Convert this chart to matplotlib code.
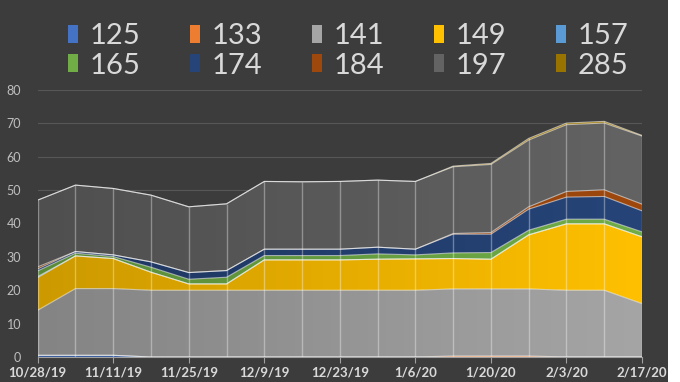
import numpy as np
import matplotlib
matplotlib.use('Agg')
import matplotlib.pyplot as plt
from matplotlib.colors import LinearSegmentedColormap, to_rgb
from matplotlib.patches import Rectangle

# weekly dates
dates = ['10/28/19', '11/4/19', '11/11/19', '11/18/19', '11/25/19', '12/2/19',
         '12/9/19', '12/16/19', '12/23/19', '12/30/19', '1/6/20', '1/13/20',
         '1/20/20', '1/27/20', '2/3/20', '2/10/20', '2/17/20']

names = ['125', '133', '141', '149', '157', '165', '174', '184', '197', '285']
colors = ['#4472C4', '#ED7D31', '#A5A5A5', '#FFC000', '#5B9BD5',
          '#70AD47', '#264478', '#9E480E', '#636363', '#997300']

# values per series (stacked bottom to top)
s125 = [0.5, 0.5, 0.5, 0, 0, 0, 0, 0, 0, 0, 0, 0, 0, 0, 0, 0, 0]
s133 = [0, 0, 0, 0, 0, 0, 0, 0, 0, 0, 0, 0.3, 0.3, 0.3, 0, 0, 0]
s141 = [13.5, 20, 20, 20, 20, 20, 20, 20, 20, 20, 20, 20.1, 20.1, 20.1, 20, 20, 16]
s149 = [9.8, 9.8, 9.0, 5.4, 1.9, 1.9, 9.1, 9.1, 9.1, 9.3, 9.4, 9.1, 8.9, 16.2, 19.9, 19.9, 20]
s157 = [0.3, 0, 0, 0, 0, 0, 0, 0, 0, 0, 0, 0, 0, 0, 0, 0, 0]
s165 = [1.7, 0.8, 0.6, 1.5, 1.4, 2, 1.3, 1.3, 1.3, 1.6, 1.2, 1.7, 2, 1.4, 1.4, 1.4, 1.5]
s174 = [0.6, 0.5, 0.5, 1.6, 2, 2, 1.9, 1.9, 1.9, 2, 1.7, 5.6, 5.5, 6.3, 6.6, 6.8, 6.3]
s184 = [0.6, 0, 0, 0, 0, 0, 0, 0, 0, 0, 0, 0.2, 0.5, 0.7, 1.7, 2, 2]
s197 = [20, 19.9, 19.9, 20, 19.7, 20, 20.3, 20.2, 20.3, 20.1, 20.3, 20, 20.4, 20, 20, 20, 20.4]
s285 = [0, 0, 0, 0, 0, 0, 0, 0, 0, 0, 0, 0.2, 0.3, 0.5, 0.5, 0.5, 0.2]

series = [s125, s133, s141, s149, s157, s165, s174, s184, s197, s285]

bg = '#3c3c3c'
plt.rcParams['font.family'] = ['Lato', 'DejaVu Sans']

fig = plt.figure(figsize=(6.8, 3.82), dpi=100, facecolor=bg)
ax = fig.add_axes([37.7 / 680, 25 / 382, (642 - 37.7) / 680, 267 / 382])
ax.set_facecolor(bg)

x = np.arange(len(dates))
grad = np.linspace(0, 1, 256).reshape(1, -1)
bottom = np.zeros(len(dates))
for vals, c in zip(series, colors):
    top = bottom + np.array(vals, dtype=float)
    poly = ax.fill_between(x, bottom, top, facecolor='none', edgecolor='none', zorder=1)
    rgb = np.array(to_rgb(c))
    cmap = LinearSegmentedColormap.from_list('g', [rgb * 0.8, rgb])
    im = ax.imshow(grad, extent=[x[0], x[-1], 0, 80], aspect='auto', cmap=cmap,
                   zorder=1, interpolation='bilinear')
    im.set_clip_path(poly.get_paths()[0], transform=ax.transData)
    if max(vals) > 0:
        ax.plot(x, top, color='white', alpha=0.55, lw=0.8, zorder=3)
    bottom = top

# vertical drop lines at each point
ax.vlines(x, 0, bottom, colors='white', alpha=0.35, lw=1, zorder=2)

ax.set_xlim(x[0], x[-1])
ax.set_ylim(0, 80)
ax.set_yticks(range(0, 81, 10))
ax.set_axisbelow(True)
ax.yaxis.grid(True, color='#575757', lw=0.8)
ax.set_xticks(x[::2])
ax.set_xticklabels(dates[::2], fontsize=9.5, fontweight='bold', color='#d9d9d9')
ax.tick_params(axis='x', length=4, color='#a0a0a0', pad=3)
ax.tick_params(axis='y', length=0, labelsize=9, labelcolor='#bfbfbf', pad=12)
for sp in ['top', 'right', 'left']:
    ax.spines[sp].set_visible(False)
ax.spines['bottom'].set_color('#a0a0a0')

# legend, two rows of five
for i, (n, c) in enumerate(zip(names, colors)):
    col, row = i % 5, i // 5
    lx = 68 + col * 122
    cy = 34 + row * 29
    fig.patches.append(Rectangle((lx / 680, 1 - (cy + 8.5) / 382), 10 / 680, 17 / 382,
                                 transform=fig.transFigure, facecolor=c, edgecolor='none'))
    fig.text((lx + 22) / 680, 1 - cy / 382, n, fontsize=21, color='#d9d9d9',
             va='center_baseline', ha='left')

# white strip at right edge
fig.patches.append(Rectangle((668 / 680, 0), 12 / 680, 1, transform=fig.transFigure,
                             facecolor='white', edgecolor='none'))

fig.savefig('out.png', dpi=100, facecolor=bg)
